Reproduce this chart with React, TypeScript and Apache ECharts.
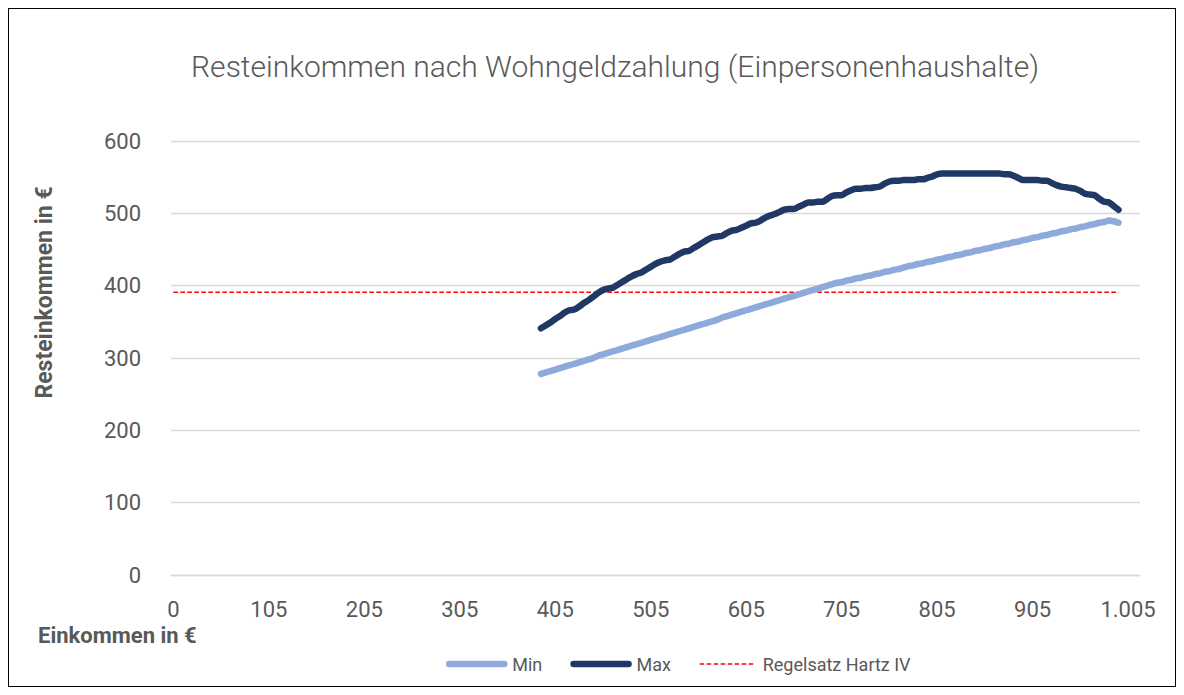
import React, { useEffect, useRef } from "react";
import * as echarts from "echarts";

// Category axis: income in € (first category 0, then steps of 5 from 10)
const incomeCategories: number[] = [0, ...Array.from({ length: 202 }, (_, i) => 10 + 5 * i)];

const seriesStartIncome = 390;
const regelsatzStartIncome = 0;
const regelsatzEndIncome = 995;
const regelsatzValue = 391;

const minValues: number[] = [
  278, 280, 282, 284, 286, 288, 290, 292, 294, 296, 298, 300, 303, 305, 307, 309, 311, 313, 315, 317,
  319, 321, 323, 325, 327, 329, 331, 333, 335, 337, 339, 341, 343, 345, 347, 349, 351, 353, 356, 358,
  360, 362, 364, 366, 368, 370, 372, 374, 376, 378, 380, 382, 384, 386, 388, 390, 392, 394, 396, 398,
  400, 402, 404, 405, 407, 408, 410, 411, 413, 414, 416, 417, 419, 420, 422, 423, 425, 427, 428, 430,
  431, 433, 434, 436, 437, 439, 440, 442, 443, 445, 446, 448, 449, 451, 452, 454, 455, 457, 458, 460,
  461, 463, 464, 466, 467, 469, 470, 472, 473, 475, 476, 478, 479, 481, 482, 484, 485, 487, 488, 490,
  489, 487,
];

const maxValues: number[] = [
  341, 345, 349, 354, 358, 363, 366, 367, 371, 376, 380, 385, 390, 394, 396, 397, 401, 405, 409, 413,
  416, 418, 422, 426, 430, 433, 435, 436, 440, 444, 447, 448, 452, 456, 460, 464, 467, 468, 469, 473,
  476, 477, 480, 483, 486, 487, 490, 494, 497, 499, 502, 505, 506, 506, 509, 512, 515, 515, 516, 516,
  520, 524, 525, 525, 529, 532, 534, 534, 535, 535, 536, 537, 541, 544, 545, 545, 546, 546, 546, 547,
  547, 549, 551, 554, 555, 555, 555, 555, 555, 555, 555, 555, 555, 555, 555, 555, 555, 554, 554, 552,
  549, 546, 546, 546, 546, 545, 545, 542, 539, 537, 536, 535, 534, 531, 527, 526, 525, 520, 516, 515,
  510, 505,
];

const yTicks = { min: 0, max: 600, interval: 100 };

const TEXT = "#595959";
const GRID = "#d9d9d9";
const FONT = "Roboto, 'Liberation Sans', sans-serif";
const MIN_COLOR = "#8eaadb";
const MAX_COLOR = "#203864";
const RED = "#ff0000";

function formatDe(v: number): string {
  return String(v).replace(/\B(?=(\d{3})+(?!\d))/g, ".");
}

export default function App() {
  const ref = useRef<HTMLDivElement>(null);
  useEffect(() => {
    if (!ref.current) return;
    const chart = echarts.init(ref.current, undefined, { renderer: "svg" });
    const startIdx = incomeCategories.indexOf(seriesStartIncome);
    const rsStart = incomeCategories.indexOf(regelsatzStartIncome);
    const rsEnd = incomeCategories.indexOf(regelsatzEndIncome);
    chart.setOption({
      animation: false,
      textStyle: { fontFamily: FONT },
      title: {
        text: "Resteinkommen nach Wohngeldzahlung (Einpersonenhaushalte)",
        left: 601,
        textAlign: "center",
        top: 37,
        textStyle: { color: TEXT, fontSize: 30, fontWeight: 300, fontFamily: FONT },
      },
      grid: { left: 162, right: 35, top: 132, bottom: 111, containLabel: false },
      legend: {
        left: 432,
        top: 641,
        itemWidth: 55,
        itemHeight: 14,
        itemGap: 28,
        itemStyle: { opacity: 0 },
        textStyle: { color: TEXT, fontSize: 18, fontFamily: FONT, padding: [0, 0, 0, 3] },
        data: [
          { name: "Min", lineStyle: { width: 6.5, cap: "round", color: MIN_COLOR } },
          { name: "Max", lineStyle: { width: 6.5, cap: "round", color: MAX_COLOR } },
          { name: "Regelsatz Hartz IV", lineStyle: { width: 1.5, color: RED, type: [4.5, 2.5] } },
        ],
      },
      xAxis: {
        type: "category",
        data: incomeCategories.map(String),
        boundaryGap: true,
        axisLine: { lineStyle: { color: GRID, width: 1.3 } },
        axisTick: { show: false },
        axisLabel: {
          interval: 19,
          color: TEXT,
          fontSize: 22,
          margin: 23,
          fontFamily: FONT,
          formatter: (v: string) => formatDe(Number(v)),
        },
        splitLine: { show: false },
      },
      yAxis: {
        type: "value",
        min: yTicks.min,
        max: yTicks.max,
        interval: yTicks.interval,
        axisLine: { show: false },
        axisTick: { show: false },
        axisLabel: { color: TEXT, fontSize: 22, margin: 30, fontFamily: FONT },
        splitLine: { lineStyle: { color: GRID, width: 1.3 } },
      },
      graphic: [
        {
          type: "text",
          x: 35,
          y: 283.5,
          rotation: Math.PI / 2,
          style: {
            text: "Resteinkommen in €",
            fill: TEXT,
            font: `bold 23px ${FONT}`,
            align: "center",
            verticalAlign: "middle",
          },
        },
        {
          type: "text",
          x: 29,
          y: 626,
          style: {
            text: "Einkommen in €",
            fill: TEXT,
            font: `bold 22px ${FONT}`,
            align: "left",
            verticalAlign: "middle",
          },
        },
      ],
      series: [
        {
          name: "Min",
          type: "line",
          symbol: "none",
          smooth: 0.2,
          data: minValues.map((v, i) => [startIdx + i, v]),
          lineStyle: { color: MIN_COLOR, width: 6.5, cap: "round", join: "round" },
          itemStyle: { color: MIN_COLOR },
          z: 3,
        },
        {
          name: "Max",
          type: "line",
          symbol: "none",
          smooth: 0.25,
          data: maxValues.map((v, i) => [startIdx + i, v]),
          lineStyle: { color: MAX_COLOR, width: 6.5, cap: "round", join: "round" },
          itemStyle: { color: MAX_COLOR },
          z: 4,
        },
        {
          name: "Regelsatz Hartz IV",
          type: "line",
          symbol: "none",
          data: [
            [rsStart, regelsatzValue],
            [rsEnd, regelsatzValue],
          ],
          lineStyle: { color: RED, width: 1.5, type: [4.5, 2.5] },
          itemStyle: { color: RED },
          z: 2,
        },
      ],
    });
    return () => chart.dispose();
  }, []);
  return (
    <div style={{ width: 1166, height: 677, border: "1px solid #000" }}>
      <div ref={ref} style={{ width: 1166, height: 677 }} />
    </div>
  );
}
